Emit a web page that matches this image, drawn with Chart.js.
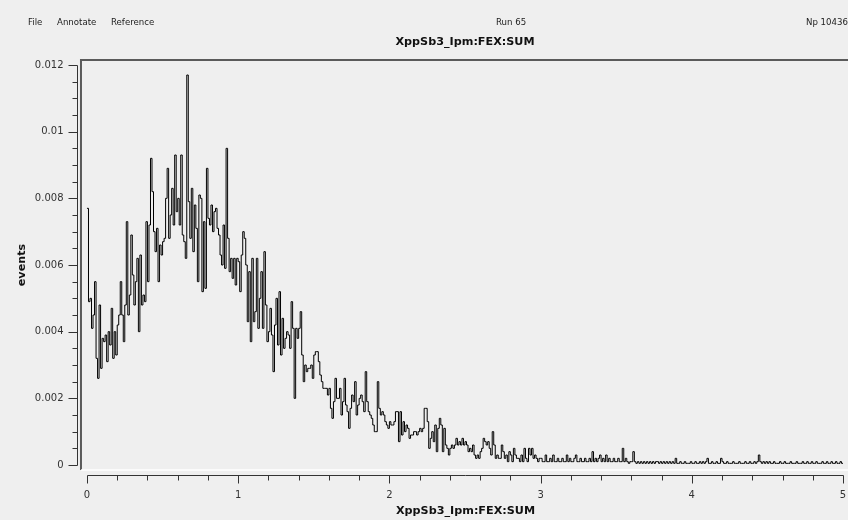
<!DOCTYPE html>
<html>
<head>
<meta charset="utf-8">
<script src="https://cdn.jsdelivr.net/npm/chart.js@4.4.1/dist/chart.umd.min.js"></script>
<style>
  html, body { margin: 0; padding: 0; background: #efefef; width: 848px; height: 520px; overflow: hidden; }
  #wrap { position: relative; width: 848px; height: 520px; }
  canvas { position: absolute; left: 0; top: 0; }
  .hdr { position: absolute; top: 17px; font: 8.6px "DejaVu Sans", sans-serif; color: #222; white-space: nowrap; }
  #title { position: absolute; top: 35px; left: 81px; width: 768px; text-align: center; font: bold 11.2px "DejaVu Sans", sans-serif; color: #111; }
</style>
</head>
<body>
<div id="wrap">
  <canvas id="c" width="848" height="520"></canvas>
  <div class="hdr" style="left:28px">File</div>
  <div class="hdr" style="left:57px">Annotate</div>
  <div class="hdr" style="left:111px">Reference</div>
  <div class="hdr" style="left:496px">Run 65</div>
  <div class="hdr" style="left:806px">Np 10436</div>
  <div id="title">XppSb3_Ipm:FEX:SUM</div>
</div>
<script>
// ---- data ----
const binStart = 0;
const binWidth = 0.01;
const counts = [
  0.0077, 0.0049, 0.0050, 0.0041, 0.0045, 0.0055, 0.0032, 0.0026, 0.0048, 0.0029,
  0.0038, 0.0037, 0.0039, 0.0031, 0.0040, 0.0036, 0.0047, 0.0032, 0.0040, 0.0033,
  0.0042, 0.0045, 0.0055, 0.0045, 0.0037, 0.0048, 0.0073, 0.0045, 0.0051, 0.0069,
  0.0057, 0.0048, 0.0055, 0.0062, 0.0040, 0.0063, 0.0048, 0.0051, 0.0049, 0.0073,
  0.0055, 0.0072, 0.0092, 0.0082, 0.0070, 0.0064, 0.0071, 0.0055, 0.0066, 0.0063,
  0.0067, 0.0068, 0.0080, 0.0089, 0.0068, 0.0075, 0.0083, 0.0072, 0.0093, 0.0076,
  0.0080, 0.0072, 0.0093, 0.0069, 0.0067, 0.0062, 0.0117, 0.0079, 0.0068, 0.0083,
  0.0064, 0.0078, 0.0071, 0.0055, 0.0081, 0.0080, 0.0052, 0.0073, 0.0053, 0.0089,
  0.0074, 0.0072, 0.0078, 0.0070, 0.0076, 0.0077, 0.0071, 0.0069, 0.0063, 0.0060,
  0.0072, 0.0059, 0.0095, 0.0068, 0.0058, 0.0062, 0.0056, 0.0062, 0.0054, 0.0062,
  0.0061, 0.0052, 0.0063, 0.0070, 0.0068, 0.0060, 0.0043, 0.0058, 0.0037, 0.0062,
  0.0043, 0.0046, 0.0062, 0.0041, 0.0050, 0.0058, 0.0041, 0.0064, 0.0048, 0.0037,
  0.0040, 0.0047, 0.0039, 0.0028, 0.0042, 0.0050, 0.0036, 0.0052, 0.0033, 0.0044,
  0.0035, 0.0038, 0.0040, 0.0039, 0.0035, 0.0049, 0.0041, 0.0020, 0.0041, 0.0038,
  0.0041, 0.0046, 0.0033, 0.0025, 0.0030, 0.0028, 0.0029, 0.0029, 0.0030, 0.0026,
  0.0033, 0.0034, 0.0034, 0.0031, 0.0027, 0.0025, 0.0023, 0.0023, 0.0023, 0.0021,
  0.0023, 0.0017, 0.0014, 0.0019, 0.0026, 0.0020, 0.0020, 0.0023, 0.0015, 0.0019,
  0.0026, 0.0018, 0.0016, 0.0011, 0.0017, 0.0021, 0.0019, 0.0025, 0.0015, 0.0018,
  0.0020, 0.0021, 0.0019, 0.0016, 0.0028, 0.0019, 0.0016, 0.0015, 0.0014, 0.0012,
  0.0010, 0.0010, 0.0025, 0.0017, 0.0015, 0.0016, 0.0015, 0.0013, 0.0012, 0.0011,
  0.0013, 0.0012, 0.0012, 0.0013, 0.0016, 0.0016, 0.0007, 0.0016, 0.0009, 0.0013,
  0.0010, 0.0012, 0.0011, 0.0008, 0.0009, 0.0009, 0.0010, 0.0010, 0.0009, 0.0010,
  0.0011, 0.0010, 0.0011, 0.0017, 0.0017, 0.0013, 0.0005, 0.0008, 0.0010, 0.0007,
  0.0012, 0.0004, 0.0011, 0.0014, 0.0012, 0.0004, 0.0011, 0.0006, 0.0005, 0.0003,
  0.0005, 0.0006, 0.0005, 0.0006, 0.0008, 0.0006, 0.0007, 0.0006, 0.0008, 0.0006,
  0.0007, 0.0006, 0.0004, 0.0005, 0.0004, 0.0006, 0.0003, 0.0002, 0.0003, 0.0002,
  0.0004, 0.0005, 0.0008, 0.0007, 0.0006, 0.0007, 0.0005, 0.0003, 0.0010, 0.0006,
  0.0002, 0.0003, 0.0002, 0.0002, 0.0006, 0.0004, 0.0002, 0.0003, 0.0001, 0.0004,
  0.0003, 0.0001, 0.0005, 0.0003, 0.0002, 0.0002, 0.0001, 0.0003, 0.0001, 0.0005,
  0.0002, 0.0001, 0.0005, 0.0003, 0.0005, 0.0002, 0.0003, 0.0002, 0.0001, 0.0002,
  0.0002, 0.0001, 0.0001, 0.0003, 0.0001, 0.0001, 0.0002, 0.0001, 0.0003, 0.0001,
  0.0001, 0.0002, 0.0001, 0.0001, 0.0002, 0.0001, 0.0001, 0.0003, 0.0001, 0.0002,
  0.0001, 0.0001, 0.0002, 0.0003, 0.0001, 0.0001, 0.0002, 0.0001, 0.0001, 0.0002,
  0.0001, 0.0001, 0.0002, 0.0001, 0.0004, 0.0001, 0.0002, 0.0001, 0.0002, 0.0003,
  0.0001, 0.0002, 0.0001, 0.0003, 0.0001, 0.0002, 0.0001, 0.0001, 0.0002, 0.0001,
  0.0001, 0.0002, 0.0001, 0.0001, 0.0005, 0.0001, 0.0002, 0.0001, 0.00005, 0.0001,
  0.0001, 0.0004, 0.0001, 0.00005, 0.0001, 0.00005, 0.0001, 0.00005, 0.0001, 0.00005,
  0.0001, 0.00005, 0.0001, 0.00005, 0.0001, 0.00005, 0.0001, 0.0001, 0.00005, 0.0001,
  0.00005, 0.0001, 0.00005, 0.0001, 0.00005, 0.0001, 0.00005, 0.0001, 0.00005, 0.0002,
  0.00005, 0.00005, 0.0001, 0.00005, 0.00005, 0.0001, 0.00005, 0.00005, 0.00005, 0.0001,
  0.00005, 0.00005, 0.0001, 0.00005, 0.00005, 0.0001, 0.00005, 0.0001, 0.00005, 0.0001,
  0.0002, 0.00005, 0.00005, 0.0001, 0.00005, 0.00005, 0.0001, 0.00005, 0.00005, 0.0002,
  0.0001, 0.00005, 0.00005, 0.0001, 0.00005, 0.00005, 0.00005, 0.0001, 0.00005, 0.00005,
  0.00005, 0.0001, 0.00005, 0.00005, 0.00005, 0.0001, 0.00005, 0.00005, 0.0001, 0.00005,
  0.00005, 0.0001, 0.00005, 0.0001, 0.0003, 0.0001, 0.00005, 0.0001, 0.00005, 0.0001,
  0.00005, 0.0001, 0.00005, 0.00005, 0.0001, 0.00005, 0.00005, 0.00005, 0.0001, 0.00005,
  0.00005, 0.0001, 0.00005, 0.00005, 0.00005, 0.0001, 0.00005, 0.00005, 0.00005, 0.0001,
  0.00005, 0.00005, 0.00005, 0.0001, 0.00005, 0.00005, 0.0001, 0.00005, 0.00005, 0.0001,
  0.00005, 0.00005, 0.0001, 0.00005, 0.00005, 0.00005, 0.0001, 0.00005, 0.00005, 0.0001,
  0.00005, 0.00005, 0.0001, 0.00005, 0.00005, 0.0001, 0.00005, 0.00005, 0.0001, 0.00005
];
const xTickValues = [0, 1, 2, 3, 4, 5];
const xTickLabels = ['0', '1', '2', '3', '4', '5'];
const yTickValues = [0, 0.002, 0.004, 0.006, 0.008, 0.01, 0.012];
const yTickLabels = ['0', '0.002', '0.004', '0.006', '0.008', '0.01', '0.012'];
const xMinorStep = 0.2;
const yMinorStep = 0.0005;
const xTitle = 'XppSb3_Ipm:FEX:SUM';
const yTitle = 'events';

// ---- build step points (left edges + final right edge) ----
const points = counts.map((v, i) => ({ x: binStart + i * binWidth, y: v }));
points.push({ x: binStart + counts.length * binWidth, y: counts[counts.length - 1] });

const FONT = '"DejaVu Sans", sans-serif';

const framePlugin = {
  id: 'frame',
  beforeDatasetsDraw(chart) {
    const { ctx, chartArea: a, scales: { x } } = chart;
    const fl = x.getPixelForValue(0) - 6, ft = a.top, fb = a.bottom - 5, fr = a.right + 2;
    ctx.save();
    ctx.fillStyle = '#efefef';
    ctx.fillRect(fl, ft, fr - fl, fb - ft);
    ctx.strokeStyle = '#5a5a5a';
    ctx.lineWidth = 2;
    ctx.beginPath();
    ctx.moveTo(fl, fb); ctx.lineTo(fl, ft); ctx.lineTo(fr, ft);
    ctx.stroke();
    ctx.strokeStyle = '#ffffff';
    ctx.lineWidth = 1.5;
    ctx.beginPath();
    ctx.moveTo(fl, fb); ctx.lineTo(fr, fb);
    ctx.stroke();
    ctx.restore();
  },
  afterDraw(chart) {
    const { ctx, chartArea: a, scales: { x, y } } = chart;
    ctx.save();
    ctx.strokeStyle = '#333';
    ctx.fillStyle = '#333';
    ctx.lineWidth = 1;
    const yMax = yTickValues[yTickValues.length - 1];
    // y axis
    const ax = a.left + 0.5;
    ctx.beginPath();
    ctx.moveTo(ax, Math.round(y.getPixelForValue(0)) + 0.5);
    ctx.lineTo(ax, Math.round(y.getPixelForValue(yMax)) + 0.5);
    ctx.stroke();
    const nY = Math.round(yMax / yMinorStep);
    for (let i = 0; i <= nY; i++) {
      const v = i * yMinorStep;
      const py = Math.round(y.getPixelForValue(v)) + 0.5;
      const major = yTickValues.some(t => Math.abs(t - v) < 1e-9);
      ctx.beginPath();
      ctx.moveTo(ax - (major ? 9 : 5), py);
      ctx.lineTo(ax, py);
      ctx.stroke();
    }
    ctx.font = '10px ' + FONT;
    ctx.textAlign = 'right';
    ctx.textBaseline = 'middle';
    yTickValues.forEach((v, i) => {
      ctx.fillText(yTickLabels[i], ax - 14, y.getPixelForValue(v));
    });
    // x axis
    const ay = a.bottom + 0.5;
    const xMax = xTickValues[xTickValues.length - 1];
    ctx.beginPath();
    ctx.moveTo(Math.round(x.getPixelForValue(0)) + 0.5, ay);
    ctx.lineTo(Math.round(x.getPixelForValue(xMax)) + 0.5, ay);
    ctx.stroke();
    const nX = Math.round(xMax / xMinorStep);
    for (let i = 0; i <= nX; i++) {
      const v = i * xMinorStep;
      const px = Math.round(x.getPixelForValue(v)) + 0.5;
      const major = xTickValues.some(t => Math.abs(t - v) < 1e-9);
      ctx.beginPath();
      ctx.moveTo(px, ay);
      ctx.lineTo(px, ay + (major ? 8 : 5));
      ctx.stroke();
    }
    ctx.textAlign = 'center';
    ctx.textBaseline = 'middle';
    xTickValues.forEach((v, i) => {
      ctx.fillText(xTickLabels[i], x.getPixelForValue(v), ay + 20);
    });
    // titles
    ctx.fillStyle = '#111';
    ctx.font = 'bold 11.2px ' + FONT;
    ctx.fillText(xTitle, (x.getPixelForValue(0) - 6 + a.right) / 2 + 1, ay + 36);
    ctx.translate(22, (y.getPixelForValue(0) + y.getPixelForValue(yMax)) / 2);
    ctx.rotate(-Math.PI / 2);
    ctx.fillText(yTitle, 0, 0);
    ctx.restore();
  }
};

new Chart(document.getElementById('c'), {
  type: 'line',
  data: {
    datasets: [{
      data: points,
      stepped: 'before',
      borderColor: '#000',
      borderWidth: 1,
      pointRadius: 0,
      fill: false
    }]
  },
  options: {
    responsive: false,
    animation: false,
    events: [],
    layout: { padding: { left: 77, top: 60, right: 0, bottom: 45 } },
    plugins: { legend: { display: false }, tooltip: { enabled: false }, title: { display: false } },
    scales: {
      x: { type: 'linear', display: false, min: -0.066, max: 5.033 },
      y: { type: 'linear', display: false, min: -0.0003, max: 0.01215 }
    }
  },
  plugins: [framePlugin]
});
</script>
</body>
</html>
